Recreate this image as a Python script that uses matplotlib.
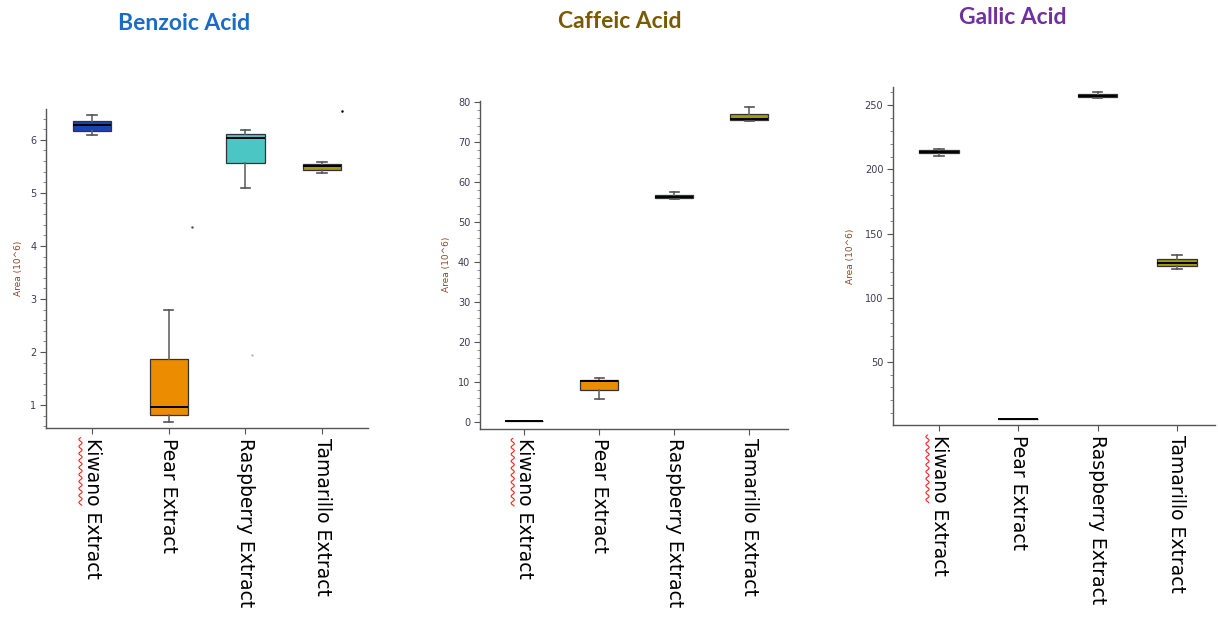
import numpy as np
import matplotlib
matplotlib.use("Agg")
from matplotlib import pyplot as plt
from matplotlib.lines import Line2D
from matplotlib.ticker import MultipleLocator

# categories and colours
extracts = ["Kiwano Extract", "Pear Extract", "Raspberry Extract", "Tamarillo Extract"]
box_colors = ["#1745b5", "#ec8c00", "#4bc6c4", "#9e9c12"]

# box stats per acid: whisker low, q1, median, q3, whisker high
benzoic_lo = [6.09, 0.68, 5.09, 5.38]
benzoic_q1 = [6.16, 0.81, 5.57, 5.44]
benzoic_med = [6.27, 0.96, 6.04, 5.50]
benzoic_q3 = [6.36, 1.87, 6.11, 5.55]
benzoic_hi = [6.47, 2.80, 6.19, 5.59]
benzoic_out = [[], [4.35], [1.95], [6.55]]

caffeic_lo = [0.1, 5.8, 55.6, 75.2]
caffeic_q1 = [0.1, 7.9, 55.8, 75.3]
caffeic_med = [0.1, 10.1, 56.2, 75.7]
caffeic_q3 = [0.1, 10.5, 56.7, 77.0]
caffeic_hi = [0.1, 11.0, 57.5, 78.7]
caffeic_out = [[], [], [], []]

gallic_lo = [210.1, 5.4, 255.5, 122.0]
gallic_q1 = [212.5, 5.4, 256.5, 124.8]
gallic_med = [213.5, 5.4, 257.5, 127.4]
gallic_q3 = [215.3, 5.4, 258.8, 130.0]
gallic_hi = [215.6, 5.4, 260.4, 133.6]
gallic_out = [[], [], [], []]

titles = ["Benzoic Acid", "Caffeic Acid", "Gallic Acid"]
title_colors = ["#1a6cc4", "#7a5a00", "#7030a0"]

# layout (pixels on a 1218x617 canvas)
W, H = 1218, 617
panels = [
    dict(box=(46, 109, 368, 428), ylim=(0.57, 6.58), major=1, minor=0.2,
         xlim=(0.4, 4.6), title_xy=(184, 23), ylab_x=18,
         stats=(benzoic_lo, benzoic_q1, benzoic_med, benzoic_q3, benzoic_hi, benzoic_out),
         out_dx=[0, 0.3, 0.09, 0.26], out_col=["k", "#555555", "#bbbbbb", "k"]),
    dict(box=(480, 100.7, 788, 428.7), ylim=(-1.7, 80.2), major=10, minor=2,
         xlim=(0.41, 4.52), title_xy=(620, 22), ylab_x=447,
         stats=(caffeic_lo, caffeic_q1, caffeic_med, caffeic_q3, caffeic_hi, caffeic_out),
         out_dx=[0, 0, 0, 0], out_col=["k"] * 4),
    dict(box=(893, 87.3, 1215, 425.3), ylim=(0.5, 264), major=50, minor=10,
         xlim=(0.42, 4.48), title_xy=(1013, 18), ylab_x=851,
         stats=(gallic_lo, gallic_q1, gallic_med, gallic_q3, gallic_hi, gallic_out),
         out_dx=[0, 0, 0, 0], out_col=["k"] * 4),
]

fig = plt.figure(figsize=(W / 100, H / 100), dpi=100)
fig.patch.set_facecolor("white")

label_size = 13.5
axes = []
for p, title, tcol in zip(panels, titles, title_colors):
    l, t, r, b = p["box"]
    ax = fig.add_axes([l / W, (H - b) / H, (r - l) / W, (b - t) / H])
    lo, q1, med, q3, hi, out = p["stats"]
    stats = []
    for i in range(4):
        stats.append(dict(whislo=lo[i], q1=q1[i], med=med[i], q3=q3[i],
                          whishi=hi[i], fliers=[]))
    pos = np.arange(1, 5)
    bp = ax.bxp(stats, positions=pos, widths=0.5, patch_artist=True,
                showfliers=False, capwidths=0.12,
                medianprops=dict(color="black", linewidth=1.4),
                whiskerprops=dict(color="#666666", linewidth=1.2),
                capprops=dict(color="#555555", linewidth=1.2),
                boxprops=dict(edgecolor="#333333", linewidth=0.9))
    for patch, c in zip(bp["boxes"], box_colors):
        patch.set_facecolor(c)
    for i in range(4):
        for v in out[i]:
            ax.plot(pos[i] + p["out_dx"][i], v, "o", ms=1.8,
                    color=p["out_col"][i], mec="none")

    ax.set_xlim(*p["xlim"])
    ax.set_ylim(*p["ylim"])
    ax.yaxis.set_major_locator(MultipleLocator(p["major"]))
    ax.yaxis.set_minor_locator(MultipleLocator(p["minor"]))
    ax.set_xticks(pos)
    ax.set_xticklabels(extracts, rotation=-90, fontsize=label_size,
                       family="DejaVu Sans", va="top", ha="center")
    for s in ["top", "right"]:
        ax.spines[s].set_visible(False)
    for s in ["left", "bottom"]:
        ax.spines[s].set_color("#555555")
        ax.spines[s].set_linewidth(1.0)
    ax.tick_params(axis="y", which="major", length=4, color="#555555",
                   labelsize=7, labelcolor="#3f3a5a", pad=3)
    ax.tick_params(axis="y", which="minor", length=2.5, color="#777777")
    ax.tick_params(axis="x", length=4, color="#555555", pad=3)
    fig.text(p["ylab_x"] / W, 1 - ((t + b) / 2) / H, "Area (10^6)", rotation=90,
             fontsize=6.5, color="#8a4a2a", ha="center", va="center")
    fig.text(p["title_xy"][0] / W, 1 - p["title_xy"][1] / H, title,
             family="Lato", fontweight="bold", fontsize=16.5, color=tcol,
             ha="center", va="center")
    axes.append(ax)

# red spell-check squiggle under "Kiwano" on each first label
fig.canvas.draw()
renderer = fig.canvas.get_renderer()
probe = fig.text(0, 0, "Kiwano", fontsize=label_size, family="DejaVu Sans")
kw_len = probe.get_window_extent(renderer).width
probe.remove()
to_fig = fig.transFigure.inverted()
for ax in axes:
    bb = ax.get_xticklabels()[0].get_window_extent(renderer)
    y_top = bb.y1
    ys = np.linspace(y_top, y_top - kw_len, 120)
    xs = bb.x0 - 2 + 1.6 * np.sin((ys - y_top) / 7.0 * 2 * np.pi)
    pts = to_fig.transform(np.column_stack([xs, ys]))
    fig.add_artist(Line2D(pts[:, 0], pts[:, 1], color="#ff2020", linewidth=0.8,
                          transform=fig.transFigure))

fig.savefig("out.png", dpi=100)
